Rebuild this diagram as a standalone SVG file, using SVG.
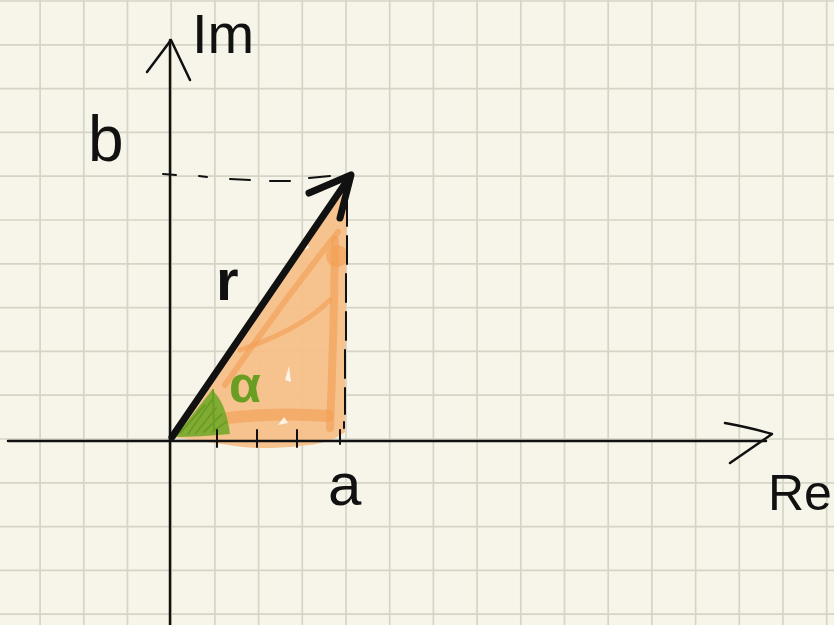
<svg xmlns="http://www.w3.org/2000/svg" width="834" height="625" viewBox="0 0 834 625">
<style>
.grid{stroke:#d5d4c6;stroke-width:1.7;fill:none}
.ink{stroke:#111;fill:none;stroke-linecap:round;stroke-linejoin:round}
.axis{stroke-width:2.5}
.lbl{font-family:"Liberation Sans",Arial,sans-serif;fill:#111}
.orange{fill:none;stroke:#f39c52;stroke-linecap:round;stroke-linejoin:round;opacity:0.6}
.green{stroke:#6a9e22;fill:none;stroke-linecap:round;stroke-linejoin:round}
</style>
<rect width="834" height="625" fill="#f7f5e9"/>
<g id="grid">
<path class="grid" d="M40.1 0V625M83.8 0V625M127.5 0V625M171.2 0V625M214.9 0V625M258.6 0V625M302.3 0V625M346 0V625M389.7 0V625M433.4 0V625M477.1 0V625M520.8 0V625M564.5 0V625M608.2 0V625M651.9 0V625M695.6 0V625M739.3 0V625M783 0V625M826.7 0V625M0 1H834M0 44.8H834M0 88.6H834M0 132.4H834M0 176.2H834M0 220H834M0 263.8H834M0 307.6H834M0 351.4H834M0 395.2H834M0 439H834M0 482.8H834M0 526.6H834M0 570.4H834M0 614.2H834"/>
</g>
<g id="triangle-fill">
<path d="M173 437 L338 200 Q348 188 347 205 L345 432 Q330 444 300 446 Q260 450 235 446 Z" fill="#f6c08a" opacity="0.95"/>
<path class="orange" stroke-width="12" d="M228 418 Q280 412 328 416"/>
<path class="orange" stroke-width="6" d="M225 385 Q280 305 338 232"/>
<path class="orange" stroke-width="8" d="M335 240 Q334 330 330 428"/>
<circle cx="337" cy="256" r="11" fill="#f39c52" opacity="0.6"/>
<path class="orange" stroke-width="5" d="M240 350 Q300 330 330 300"/>
<path d="M285 380 l4 -14 l2 16 z M278 425 l6 -8 l4 6 z M305 238 l4 10 l-6 2 z" fill="#fbf3e6"/>
</g>
<g id="angle">
<path d="M175 437 L212 390 Q226 402 230 434 Q200 437 175 437 Z" fill="#74a92a" opacity="0.9"/>
<path class="green" stroke-width="2" d="M180 433 L205 405 M188 434 L212 400 M196 433 L216 408 M204 432 L222 414 M212 432 L226 422 M213 390 L214 430"/>
<text class="lbl" x="229" y="402" font-size="52" font-weight="bold" style="fill:#6a9e22">α</text>
</g>
<g id="axes">
<path class="ink axis" d="M170 40 V625"/>
<path class="ink axis" d="M147 72 L171 40 L190 80"/>
<path class="ink axis" d="M8 441 H766"/>
<path class="ink axis" d="M725 423 Q752 428 772 434 L730 463"/>
<text class="lbl" x="192" y="53" font-size="56">Im</text>
<text class="lbl" x="768" y="510" font-size="50">Re</text>
</g>
<g id="ticks">
<path class="ink" stroke-width="2" d="M217 430 V447 M257 430 V447 M297 430 V447 M340 430 V444"/>
</g>
<g id="dashes">
<path class="ink" stroke-width="2" d="M163 174 L176 175 M199 176 L207 177 M230 179 L250 180 M270 181 L290 181 M309 178 L330 176"/>
<path class="ink" stroke-width="2" d="M347 200 V226 M347 236 V264 M346 274 V302 M346 312 V340 M345 350 V378 M345 388 V414 M344 422 V428"/>
</g>
<g id="vector-r">
<path class="ink" stroke-width="7" d="M172 437 L349 178"/>
<path class="ink" stroke-width="7" d="M309 193 L351 175 L340 218"/>
<text class="lbl" x="216" y="300" font-size="58" font-weight="bold">r</text>
</g>
<g id="labels">
<text class="lbl" x="88" y="161" font-size="64">b</text>
<text class="lbl" x="328" y="505" font-size="60">a</text>
</g>
</svg>
